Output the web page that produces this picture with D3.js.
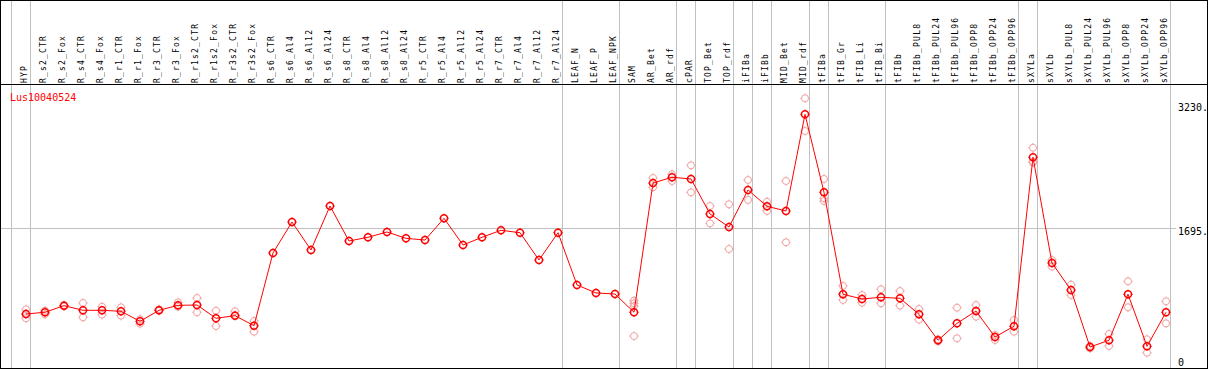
<!DOCTYPE html>
<html>
<head>
<meta charset="utf-8">
<script src="https://cdn.jsdelivr.net/npm/d3@7"></script>
<style>
  body { margin: 0; background: #fff; }
  svg { display: block; font-family: "DejaVu Sans Mono", monospace; }
</style>
</head>
<body>
<script>
const geneName = 'Lus10040524';

const samples = [
  'HYP', 'R_s2_CTR', 'R_s2_Fox', 'R_s4_CTR', 'R_s4_Fox', 'R_r1_CTR', 'R_r1_Fox',
  'R_r3_CTR', 'R_r3_Fox', 'R_r1s2_CTR', 'R_r1s2_Fox', 'R_r3s2_CTR', 'R_r3s2_Fox',
  'R_s6_CTR', 'R_s6_Al4', 'R_s6_Al12', 'R_s6_Al24', 'R_s8_CTR', 'R_s8_Al4', 'R_s8_Al12',
  'R_s8_Al24', 'R_r5_CTR', 'R_r5_Al4', 'R_r5_Al12', 'R_r5_Al24', 'R_r7_CTR', 'R_r7_Al4',
  'R_r7_Al12', 'R_r7_Al24', 'LEAF_N', 'LEAF_P', 'LEAF_NPK', 'SAM', 'AR_Bet', 'AR_rdf',
  'cPAR', 'TOP_Bet', 'TOP_rdf', 'iFIBa', 'iFIBb', 'MID_Bet', 'MID_rdf', 'tFIBa',
  'tFIB_Gr', 'tFIB_Li', 'tFIB_Bi', 'tFIBb', 'tFIBb_PUL8', 'tFIBb_PUL24', 'tFIBb_PUL96',
  'tFIBb_OPP8', 'tFIBb_OPP24', 'tFIBb_OPP96', 'sXYLa', 'sXYLb', 'sXYLb_PUL8',
  'sXYLb_PUL24', 'sXYLb_PUL96', 'sXYLb_OPP8', 'sXYLb_OPP24', 'sXYLb_OPP96'
];

const means = [
  639, 660, 741, 684, 684, 672, 549, 684, 745, 749, 586, 618, 495,
  1388, 1769, 1425, 1965, 1535, 1581, 1646, 1568, 1547, 1814, 1486, 1581, 1667, 1637, 1302, 1637,
  995, 897, 884, 660, 2247, 2318, 2297, 1867, 1707, 2162, 1961, 1904, 3091, 2133,
  881, 823, 844, 831, 635, 316, 524, 675, 356, 488,
  2563, 1265, 933, 233, 316, 881, 242, 660
];

const replicates = [
  [696, 586, 639], [679, 635], [749, 733], [774, 598], [728, 630], [721, 618], [574, 520],
  [696, 679], [782, 728], [835, 660], [679, 491], [672, 626], [553, 421],
  [], [], [], [], [], [], [], [], [], [], [], [], [], [], [], [],
  [], [], [], [802, 770, 737, 368], [2309, 2195], [2354, 2272], [2465, 2133],
  [1965, 1752], [1986, 1437], [2284, 2039], [2018, 1904], [2272, 1519], [3288, 2886],
  [2297, 2060, 2026],
  [983, 811], [872, 777], [942, 770], [921, 741], [700, 569], [328, 303], [716, 340],
  [749, 605], [381, 319], [565, 421],
  [2681, 2509, 2499], [1302, 1220], [998, 872], [246, 217], [393, 246], [1040, 721],
  [328, 163], [795, 524]
];

// a grey separator is drawn right of each of these columns
const groupEnds = [
  null, 'HYP', 'R_r7_Al24', 'LEAF_NPK', 'AR_rdf', 'cPAR', 'TOP_rdf', 'iFIBa', 'iFIBb',
  'MID_rdf', 'tFIBa', 'tFIB_Bi', 'tFIBb_OPP96', 'sXYLa', 'sXYLb_OPP96'
];

const yTicks = [0, 1695, 3230];

const width = 1209, height = 370;
const red = '#ff0000', pink = '#f0a0a0', grey = '#c0c0c0';

const svg = d3.select('body').append('svg')
  .attr('width', width)
  .attr('height', height);

const x = d3.scalePoint().domain(samples).range([26, 1166]);
const y = d3.scaleLinear().domain([0, 3230]).range([366, 103]);
const step = x.step();
const sepX = d => Math.floor((d ? x(d) : x(samples[0]) - step) + 4.6) + 0.5;

// separators
svg.append('g')
  .selectAll('line')
  .data(groupEnds)
  .join('line')
  .attr('x1', sepX)
  .attr('x2', sepX)
  .attr('y1', 0)
  .attr('y2', 368)
  .attr('stroke', grey)
  .attr('shape-rendering', 'crispEdges');

// horizontal grid line
svg.append('line')
  .attr('x1', 1).attr('x2', 1176)
  .attr('y1', Math.round(y(1695)) + 0.5)
  .attr('y2', Math.round(y(1695)) + 0.5)
  .attr('stroke', grey)
  .attr('shape-rendering', 'crispEdges');

// frame and header rule
svg.append('rect')
  .attr('x', 0.5).attr('y', 0.5)
  .attr('width', 1207).attr('height', 368)
  .attr('fill', 'none')
  .attr('stroke', '#000')
  .attr('shape-rendering', 'crispEdges');
svg.append('line')
  .attr('x1', 0).attr('x2', 1208)
  .attr('y1', 84.5).attr('y2', 84.5)
  .attr('stroke', '#000')
  .attr('shape-rendering', 'crispEdges');

// column labels
svg.append('g')
  .selectAll('text')
  .data(samples)
  .join('text')
  .attr('transform', d => `translate(${x(d) + 1},83) rotate(-90)`)
  .attr('font-size', 8)
  .attr('letter-spacing', 1.2)
  .attr('fill', '#000')
  .text(d => d);

// y tick labels
svg.append('g')
  .selectAll('text')
  .data(yTicks)
  .join('text')
  .attr('x', 1178)
  .attr('y', d => d ? y(d) + 7.5 : y(d))
  .attr('font-size', 10)
  .attr('fill', '#000')
  .text(d => d ? d + '.' : '0');

svg.append('text')
  .attr('x', 10).attr('y', 100.5)
  .attr('font-size', 10)
  .attr('fill', red)
  .text(geneName);

function marker(g, color, sw) {
  const r = 3.5;
  g.append('circle').attr('r', r).attr('fill', 'none').attr('stroke', color).attr('stroke-width', sw);
  g.append('path')
    .attr('d', `M0,${-r - 1.2}V${-r}M0,${r}V${r + 1.2}M${-r - 1.2},0H${-r}M${r},0H${r + 1.2}`)
    .attr('stroke', color)
    .attr('stroke-width', 1);
}

// replicate points
const repData = samples.flatMap((s, i) => replicates[i].map(v => ({ s, v })));
svg.append('g')
  .selectAll('g')
  .data(repData)
  .join('g')
  .attr('transform', d => `translate(${x(d.s)},${y(d.v)})`)
  .each(function () { marker(d3.select(this), pink, 1); });

// mean line
const meanData = samples.map((s, i) => ({ s, v: means[i] }));
svg.append('path')
  .attr('d', d3.line().x(d => x(d.s)).y(d => y(d.v))(meanData))
  .attr('fill', 'none')
  .attr('stroke', red)
  .attr('stroke-width', 1);

svg.append('g')
  .selectAll('g')
  .data(meanData)
  .join('g')
  .attr('transform', d => `translate(${x(d.s)},${y(d.v)})`)
  .each(function () { marker(d3.select(this), red, 1.5); });
</script>
</body>
</html>
